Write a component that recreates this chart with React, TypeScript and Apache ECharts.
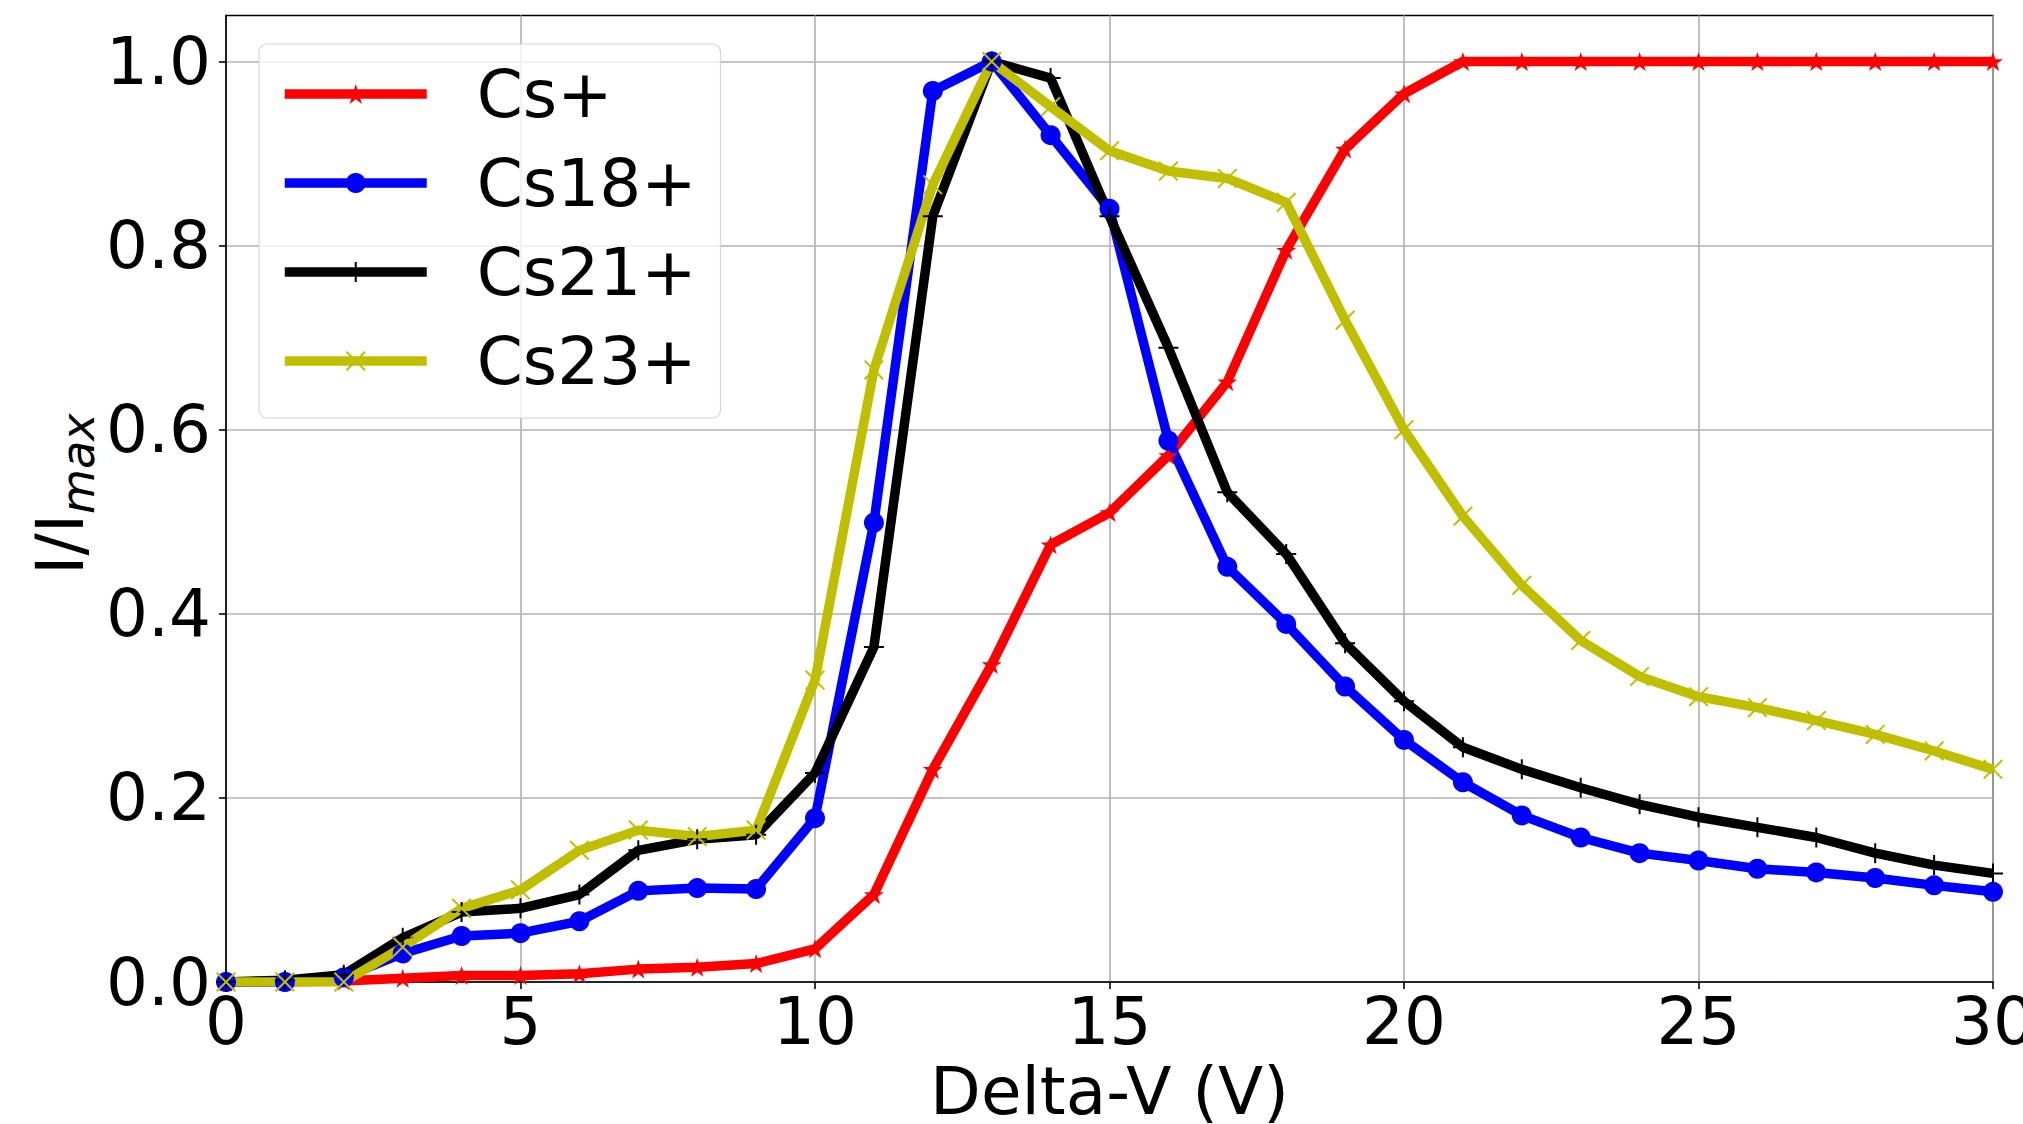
import React, { useEffect, useRef } from "react";
import * as echarts from "echarts";

const FONT = "DejaVu Sans";

const deltaV = [0, 1, 2, 3, 4, 5, 6, 7, 8, 9, 10, 11, 12, 13, 14, 15, 16, 17, 18, 19, 20, 21, 22, 23, 24, 25, 26, 27, 28, 29, 30];

const csPlus = [0, 0, 0.001, 0.004, 0.007, 0.007, 0.009, 0.014, 0.016, 0.02, 0.036, 0.095, 0.231, 0.345, 0.475, 0.51, 0.572, 0.652, 0.795, 0.905, 0.965, 1.0, 1.0, 1.0, 1.0, 1.0, 1.0, 1.0, 1.0, 1.0, 1.0];
const cs18 = [0, 0, 0.005, 0.031, 0.05, 0.053, 0.066, 0.099, 0.102, 0.101, 0.178, 0.499, 0.968, 1.0, 0.92, 0.84, 0.588, 0.451, 0.389, 0.321, 0.263, 0.217, 0.181, 0.157, 0.14, 0.132, 0.123, 0.119, 0.113, 0.105, 0.098];
const cs21 = [0, 0.002, 0.008, 0.048, 0.076, 0.08, 0.095, 0.143, 0.155, 0.16, 0.227, 0.364, 0.832, 1.0, 0.982, 0.832, 0.689, 0.532, 0.465, 0.368, 0.305, 0.255, 0.231, 0.211, 0.193, 0.179, 0.168, 0.157, 0.14, 0.127, 0.118];
const cs23 = [0, 0, 0, 0.038, 0.08, 0.1, 0.143, 0.165, 0.158, 0.165, 0.328, 0.665, 0.866, 1.0, 0.951, 0.903, 0.881, 0.873, 0.847, 0.719, 0.6, 0.506, 0.431, 0.371, 0.332, 0.31, 0.298, 0.284, 0.269, 0.251, 0.231];

const seriesNames = ["Cs+", "Cs18+", "Cs21+", "Cs23+"];
const seriesColors = ["#ff0000", "#0000ff", "#000000", "#bfbf00"];
const xTicks = [0, 5, 10, 15, 20, 25, 30];
const yTicks = [0, 0.2, 0.4, 0.6, 0.8, 1.0];

const STAR = "path://M50 0 L61.2 34.5 L97.6 34.5 L68.2 55.9 L79.4 90.5 L50 69.1 L20.6 90.5 L31.8 55.9 L2.4 34.5 L38.8 34.5 Z";
const PLUS = "path://M45 0 H55 V45 H100 V55 H55 V100 H45 V55 H0 V45 H45 Z";
const CROSS = "path://M0 7 L7 0 L50 43 L93 0 L100 7 L57 50 L100 93 L93 100 L50 57 L7 100 L0 93 L43 50 Z";
const symbols = [STAR, "circle", PLUS, CROSS];
const allValues = [csPlus, cs18, cs21, cs23];

export default function App() {
  const ref = useRef<HTMLDivElement>(null);
  useEffect(() => {
    if (!ref.current) return;
    const chart = echarts.init(ref.current, undefined, { renderer: "svg" });
    const fs = 66;
    const option: any = {
      animation: false,
      backgroundColor: "#ffffff",
      textStyle: { fontFamily: FONT },
      grid: {
        left: 226,
        right: 30,
        top: 15.5,
        bottom: 142,
        show: true,
        containLabel: false,
        outerBoundsMode: "none",
        borderColor: "#000000",
        borderWidth: 1.6,
        backgroundColor: "transparent",
      },
      xAxis: {
        type: "value",
        min: 0,
        max: 30,
        interval: 5,
        name: "Delta-V (V)",
        nameLocation: "middle",
        nameGap: 70,
        nameTextStyle: { fontSize: fs, color: "#000", fontFamily: FONT },
        axisLine: { show: true, onZero: false, lineStyle: { color: "#000", width: 1.6 } },
        axisTick: { show: true, length: 7, customValues: xTicks, lineStyle: { color: "#000", width: 1.6 } },
        axisLabel: { fontSize: fs, color: "#000", margin: 6, fontFamily: FONT, customValues: xTicks },
        splitLine: { show: true, lineStyle: { color: "#b0b0b0", width: 1.6 } },
      },
      yAxis: {
        type: "value",
        min: 0,
        max: 1.05,
        interval: 0.2,
        axisLine: { show: true, onZero: false, lineStyle: { color: "#000", width: 1.6 } },
        axisTick: { show: true, length: 7, customValues: yTicks, lineStyle: { color: "#000", width: 1.6 } },
        axisLabel: {
          fontSize: fs,
          color: "#000",
          margin: 15,
          fontFamily: FONT,
          customValues: yTicks,
          formatter: (v: number) => v.toFixed(1),
        },
        splitLine: { show: true, lineStyle: { color: "#b0b0b0", width: 1.6 } },
      },
      legend: {
        orient: "vertical",
        left: 259,
        top: 44,
        padding: [17, 24, 24, 21],
        itemGap: 23,
        itemWidth: 142,
        itemHeight: 25,
        backgroundColor: "rgba(255,255,255,0.8)",
        borderColor: "#d6d6d6",
        borderWidth: 1.2,
        borderRadius: 8,
        lineStyle: { width: 9.5 },
        textStyle: { fontSize: fs, color: "#000", fontFamily: FONT, padding: [0, 0, 0, 45] },
        data: seriesNames,
      },
      graphic: [
        {
          type: "group",
          x: 60,
          y: 575,
          rotation: Math.PI / 2,
          children: [
            {
              type: "text",
              x: 0,
              y: 0,
              style: { text: "I/I", fontSize: fs, fontFamily: FONT, fill: "#000", align: "left", verticalAlign: "middle" },
            },
            {
              type: "text",
              x: 61,
              y: 18,
              style: {
                text: "max",
                fontSize: 46.2,
                fontStyle: "italic",
                fontFamily: FONT,
                fill: "#000",
                align: "left",
                verticalAlign: "middle",
              },
            },
          ],
        },
      ],
      series: seriesNames.map((name, k) => ({
        name,
        type: "line",
        data: deltaV.map((x, i) => [x, allValues[k][i]]),
        symbol: symbols[k],
        symbolSize: 20,
        symbolKeepAspect: true,
        showAllSymbol: true,
        clip: true,
        color: seriesColors[k],
        lineStyle: { width: 9.5, color: seriesColors[k] },
        itemStyle: { color: seriesColors[k] },
        emphasis: { disabled: true },
      })),
    };
    chart.setOption(option);
    return () => chart.dispose();
  }, []);
  return (
    <div
      ref={ref}
      style={{ position: "fixed", left: 0, top: 0, width: 2023, height: 1124 }}
    />
  );
}
